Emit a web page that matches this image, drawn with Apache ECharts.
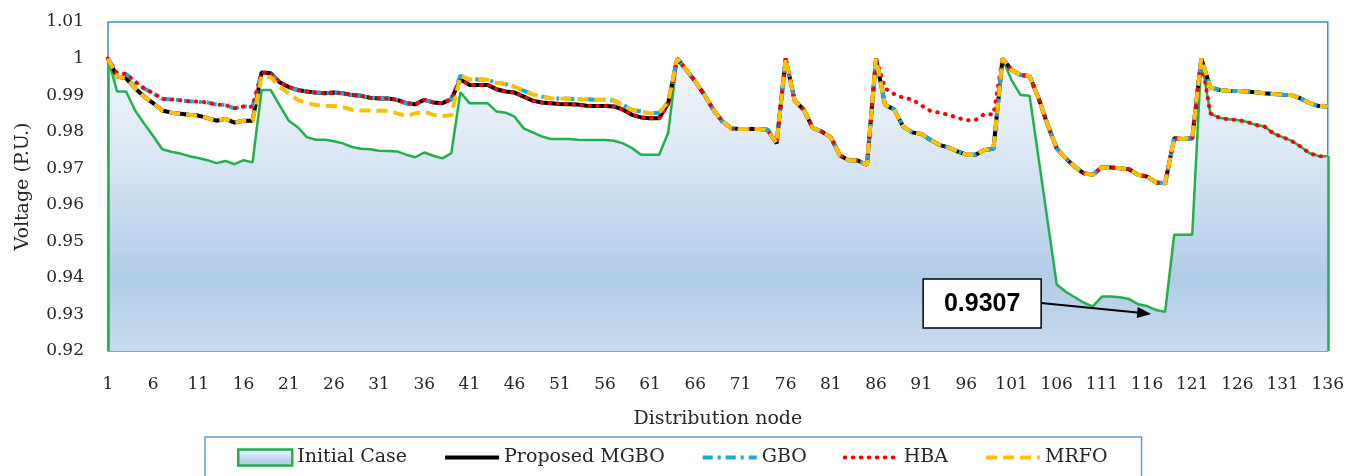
<!DOCTYPE html>
<html>
<head>
<meta charset="utf-8">
<title>Voltage profile</title>
<script src="https://cdn.jsdelivr.net/npm/echarts@6/dist/echarts.min.js"></script>
<style>
  html, body { margin: 0; padding: 0; background: #ffffff; }
  #chart { width: 1347px; height: 476px; }
</style>
</head>
<body>
<div id="chart"></div>
<script>
// Distribution nodes 1..136
const nodes = Array.from({ length: 136 }, (_, i) => String(i + 1));

// Node voltages (p.u.) per case
const initialCase = [
  1.0000, 0.9910, 0.9910, 0.9858, 0.9822, 0.9788, 0.9752, 0.9745, 0.9740, 0.9733,
  0.9728, 0.9722, 0.9714, 0.9720, 0.9711, 0.9722, 0.9716, 0.9914, 0.9914, 0.9872,
  0.9830, 0.9812, 0.9785, 0.9778, 0.9778, 0.9774, 0.9768, 0.9758, 0.9753, 0.9752,
  0.9748, 0.9747, 0.9746, 0.9737, 0.9730, 0.9743, 0.9734, 0.9727, 0.9741, 0.9908,
  0.9878, 0.9878, 0.9878, 0.9855, 0.9852, 0.9841, 0.9809, 0.9798, 0.9787, 0.9780,
  0.9780, 0.9780, 0.9778, 0.9777, 0.9777, 0.9777, 0.9775, 0.9768, 0.9755, 0.9737,
  0.9737, 0.9737, 0.9797, 1.0000, 0.9969, 0.9937, 0.9901, 0.9860, 0.9828, 0.9809,
  0.9807, 0.9807, 0.9807, 0.9805, 0.9768, 1.0000, 0.9885, 0.9860, 0.9810, 0.9800,
  0.9785, 0.9735, 0.9722, 0.9721, 0.9709, 1.0000, 0.9873, 0.9861, 0.9814, 0.9798,
  0.9794, 0.9778, 0.9764, 0.9757, 0.9746, 0.9737, 0.9737, 0.9750, 0.9753, 1.0000,
  0.9941, 0.9900, 0.9898, 0.9726, 0.9554, 0.9382, 0.9362, 0.9347, 0.9332, 0.9322,
  0.9349, 0.9349, 0.9347, 0.9342, 0.9328, 0.9323, 0.9312, 0.9307, 0.9518, 0.9518,
  0.9518, 1.0000, 0.9850, 0.9838, 0.9834, 0.9832, 0.9827, 0.9819, 0.9814, 0.9795,
  0.9785, 0.9775, 0.9759, 0.9741, 0.9733, 0.9733
];

const proposedMGBO = [
  1.0000, 0.9951, 0.9946, 0.9919, 0.9896, 0.9878, 0.9858, 0.9852, 0.9849, 0.9846,
  0.9844, 0.9837, 0.9830, 0.9835, 0.9825, 0.9830, 0.9830, 0.9962, 0.9960, 0.9935,
  0.9922, 0.9914, 0.9910, 0.9907, 0.9905, 0.9907, 0.9905, 0.9900, 0.9898, 0.9893,
  0.9891, 0.9891, 0.9887, 0.9878, 0.9875, 0.9887, 0.9880, 0.9878, 0.9889, 0.9943,
  0.9928, 0.9928, 0.9928, 0.9916, 0.9910, 0.9907, 0.9896, 0.9885, 0.9880, 0.9878,
  0.9876, 0.9875, 0.9874, 0.9871, 0.9870, 0.9870, 0.9869, 0.9860, 0.9846, 0.9839,
  0.9837, 0.9837, 0.9878, 1.0000, 0.9969, 0.9937, 0.9901, 0.9860, 0.9828, 0.9809,
  0.9807, 0.9807, 0.9807, 0.9805, 0.9768, 1.0000, 0.9885, 0.9860, 0.9810, 0.9800,
  0.9785, 0.9735, 0.9722, 0.9721, 0.9709, 1.0000, 0.9873, 0.9861, 0.9814, 0.9798,
  0.9794, 0.9778, 0.9764, 0.9757, 0.9746, 0.9737, 0.9737, 0.9750, 0.9753, 1.0000,
  0.9969, 0.9955, 0.9952, 0.9891, 0.9818, 0.9754, 0.9727, 0.9704, 0.9686, 0.9682,
  0.9703, 0.9702, 0.9700, 0.9697, 0.9682, 0.9677, 0.9661, 0.9659, 0.9782, 0.9780,
  0.9782, 1.0000, 0.9921, 0.9914, 0.9912, 0.9911, 0.9910, 0.9908, 0.9905, 0.9903,
  0.9901, 0.9900, 0.9891, 0.9878, 0.9870, 0.9869
];

const gbo = [
  1.0000, 0.9960, 0.9958, 0.9937, 0.9918, 0.9905, 0.9890, 0.9888, 0.9886, 0.9883,
  0.9882, 0.9880, 0.9874, 0.9873, 0.9864, 0.9869, 0.9868, 0.9962, 0.9960, 0.9935,
  0.9922, 0.9914, 0.9910, 0.9907, 0.9905, 0.9907, 0.9905, 0.9900, 0.9898, 0.9893,
  0.9891, 0.9891, 0.9887, 0.9878, 0.9875, 0.9887, 0.9880, 0.9878, 0.9889, 0.9953,
  0.9943, 0.9943, 0.9942, 0.9934, 0.9930, 0.9923, 0.9912, 0.9902, 0.9896, 0.9891,
  0.9891, 0.9890, 0.9889, 0.9889, 0.9887, 0.9887, 0.9885, 0.9873, 0.9860, 0.9855,
  0.9850, 0.9852, 0.9882, 1.0000, 0.9969, 0.9937, 0.9901, 0.9860, 0.9828, 0.9809,
  0.9807, 0.9807, 0.9807, 0.9805, 0.9768, 1.0000, 0.9885, 0.9860, 0.9810, 0.9800,
  0.9785, 0.9735, 0.9722, 0.9721, 0.9709, 1.0000, 0.9873, 0.9861, 0.9814, 0.9798,
  0.9794, 0.9778, 0.9764, 0.9757, 0.9746, 0.9737, 0.9737, 0.9750, 0.9753, 1.0000,
  0.9969, 0.9955, 0.9952, 0.9891, 0.9818, 0.9754, 0.9727, 0.9704, 0.9686, 0.9682,
  0.9703, 0.9702, 0.9700, 0.9697, 0.9682, 0.9677, 0.9661, 0.9659, 0.9782, 0.9780,
  0.9782, 1.0000, 0.9921, 0.9914, 0.9912, 0.9911, 0.9910, 0.9908, 0.9905, 0.9903,
  0.9901, 0.9900, 0.9891, 0.9878, 0.9870, 0.9869
];

const hba = [
  1.0000, 0.9960, 0.9958, 0.9937, 0.9918, 0.9905, 0.9890, 0.9888, 0.9886, 0.9883,
  0.9882, 0.9880, 0.9874, 0.9873, 0.9864, 0.9869, 0.9868, 0.9962, 0.9960, 0.9935,
  0.9922, 0.9914, 0.9910, 0.9907, 0.9905, 0.9907, 0.9905, 0.9900, 0.9898, 0.9893,
  0.9891, 0.9891, 0.9887, 0.9878, 0.9875, 0.9887, 0.9880, 0.9878, 0.9889, 0.9943,
  0.9928, 0.9928, 0.9928, 0.9916, 0.9910, 0.9907, 0.9896, 0.9885, 0.9880, 0.9878,
  0.9876, 0.9875, 0.9874, 0.9871, 0.9870, 0.9870, 0.9869, 0.9860, 0.9846, 0.9839,
  0.9837, 0.9837, 0.9878, 1.0000, 0.9969, 0.9937, 0.9901, 0.9860, 0.9828, 0.9809,
  0.9807, 0.9807, 0.9807, 0.9805, 0.9768, 1.0000, 0.9885, 0.9860, 0.9810, 0.9800,
  0.9785, 0.9735, 0.9722, 0.9721, 0.9709, 1.0000, 0.9918, 0.9903, 0.9893, 0.9888,
  0.9872, 0.9857, 0.9852, 0.9846, 0.9838, 0.9831, 0.9832, 0.9848, 0.9847, 1.0000,
  0.9969, 0.9955, 0.9952, 0.9891, 0.9818, 0.9754, 0.9727, 0.9704, 0.9686, 0.9682,
  0.9703, 0.9702, 0.9700, 0.9697, 0.9682, 0.9677, 0.9661, 0.9659, 0.9782, 0.9780,
  0.9782, 1.0000, 0.9850, 0.9838, 0.9834, 0.9832, 0.9827, 0.9819, 0.9814, 0.9795,
  0.9785, 0.9775, 0.9759, 0.9741, 0.9733, 0.9733
];

const mrfo = [
  1.0000, 0.9951, 0.9946, 0.9919, 0.9896, 0.9878, 0.9858, 0.9852, 0.9849, 0.9846,
  0.9844, 0.9837, 0.9830, 0.9835, 0.9825, 0.9830, 0.9830, 0.9951, 0.9949, 0.9923,
  0.9905, 0.9887, 0.9878, 0.9873, 0.9870, 0.9870, 0.9867, 0.9860, 0.9858, 0.9858,
  0.9857, 0.9857, 0.9850, 0.9843, 0.9850, 0.9855, 0.9846, 0.9843, 0.9845, 0.9953,
  0.9943, 0.9943, 0.9942, 0.9934, 0.9930, 0.9923, 0.9912, 0.9902, 0.9896, 0.9891,
  0.9891, 0.9890, 0.9889, 0.9889, 0.9887, 0.9887, 0.9885, 0.9873, 0.9860, 0.9855,
  0.9850, 0.9852, 0.9882, 1.0000, 0.9969, 0.9937, 0.9901, 0.9860, 0.9828, 0.9809,
  0.9807, 0.9807, 0.9807, 0.9805, 0.9768, 1.0000, 0.9885, 0.9860, 0.9810, 0.9800,
  0.9785, 0.9735, 0.9722, 0.9721, 0.9709, 1.0000, 0.9873, 0.9861, 0.9814, 0.9798,
  0.9794, 0.9778, 0.9764, 0.9757, 0.9746, 0.9737, 0.9737, 0.9750, 0.9753, 1.0000,
  0.9969, 0.9955, 0.9952, 0.9891, 0.9818, 0.9754, 0.9727, 0.9704, 0.9686, 0.9682,
  0.9703, 0.9702, 0.9700, 0.9697, 0.9682, 0.9677, 0.9661, 0.9659, 0.9782, 0.9780,
  0.9782, 1.0000, 0.9921, 0.9914, 0.9912, 0.9911, 0.9910, 0.9908, 0.9905, 0.9903,
  0.9901, 0.9900, 0.9891, 0.9878, 0.9870, 0.9869
];

// Axis range
const yMin = 0.92;
const yMax = 1.01;
const yStep = 0.01;

const SERIF = 'DejaVu Serif';
const TEXT = '#262626';
const GREEN = '#21b04b';

function areaFill() {
  return new echarts.graphic.LinearGradient(0, 0, 0, 1, [
    { offset: 0, color: '#f3f7fc' },
    { offset: 0.3, color: '#dde8f5' },
    { offset: 0.5, color: '#c9dcf0' },
    { offset: 0.75, color: '#b1cce8' },
    { offset: 1, color: '#c8dbef' }
  ]);
}

function lineSeries(name, data, z, lineStyle) {
  return {
    name, type: 'line', data, z,
    symbol: 'none',
    lineStyle, itemStyle: { color: lineStyle.color }
  };
}

// Legend entry that shows only the line stroke (marker hidden)
function lineLegend(name) {
  return { name, itemStyle: { opacity: 0 }, lineStyle: { width: 4 } };
}

const chart = echarts.init(document.getElementById('chart'), null, { renderer: 'canvas' });

const option = {
  animation: false,
  backgroundColor: '#ffffff',
  grid: {
    left: 108, right: 16, top: 22, bottom: 125,
    show: true, borderColor: '#3d8ed6', borderWidth: 1.5, backgroundColor: '#ffffff'
  },
  legend: {
    left: 205, top: 437,
    padding: [11, 34, 12, 32],
    itemGap: 36, itemWidth: 54, itemHeight: 16,
    borderColor: '#5b9bd5', borderWidth: 1.5,
    textStyle: { fontFamily: SERIF, fontSize: 19, color: TEXT },
    data: [
      { name: 'Initial Case', icon: 'rect',
        itemStyle: { color: areaFill(), borderColor: GREEN, borderWidth: 2.5 } },
      lineLegend('Proposed MGBO'), lineLegend('GBO'), lineLegend('HBA'), lineLegend('MRFO')
    ]
  },
  xAxis: {
    type: 'category', data: nodes, boundaryGap: false,
    axisLine: { show: false }, axisTick: { show: false }, splitLine: { show: false },
    axisLabel: { interval: 4, margin: 25, fontFamily: SERIF, fontSize: 17, color: TEXT },
    name: 'Distribution node', nameLocation: 'middle', nameGap: 59,
    nameTextStyle: { fontFamily: SERIF, fontSize: 19, color: TEXT }
  },
  yAxis: {
    type: 'value', min: yMin, max: yMax, interval: yStep,
    axisLine: { show: false }, axisTick: { show: false }, splitLine: { show: false },
    axisLabel: {
      margin: 24, fontFamily: SERIF, fontSize: 17, color: TEXT,
      formatter: v => String(parseFloat(v.toFixed(2)))
    },
    name: 'Voltage (P.U.)', nameLocation: 'middle', nameGap: 75, nameRotate: 90,
    nameTextStyle: { fontFamily: SERIF, fontSize: 19, color: TEXT }
  },
  series: [
    {
      name: 'Initial Case', type: 'line', data: initialCase,
      symbol: 'none', z: 1,
      lineStyle: { color: GREEN, width: 2.5 },
      itemStyle: { color: GREEN },
      areaStyle: { origin: 'start', color: areaFill(), opacity: 1 },
      markLine: {
        silent: true, symbol: ['none', 'none'], label: { show: false },
        lineStyle: { color: GREEN, width: 2.5, type: 'solid' },
        data: [
          [{ coord: [nodes[0], yMin] }, { coord: [nodes[0], initialCase[0]] }],
          [{ coord: [nodes[nodes.length - 1], yMin] },
           { coord: [nodes[nodes.length - 1], initialCase[initialCase.length - 1]] }]
        ]
      }
    },
    lineSeries('Proposed MGBO', proposedMGBO, 2, { color: '#000000', width: 4 }),
    lineSeries('GBO', gbo, 3, { color: '#1aa7e6', width: 4, type: [10, 5, 3, 5] }),
    lineSeries('HBA', hba, 4, { color: '#ff0000', width: 4, type: [0.5, 7.5], cap: 'round' }),
    lineSeries('MRFO', mrfo, 5, { color: '#ffc000', width: 4, type: [11, 6] })
  ]
};

chart.setOption(option);

// Callout pointing at the lowest voltage of the initial case
const iMin = initialCase.indexOf(Math.min(...initialCase));
const p = chart.convertToPixel({ gridIndex: 0 }, [nodes[iMin], initialCase[iMin]]);
const boxW = 118, boxH = 49;
const boxX = p[0] - 124 - boxW, boxY = p[1] - 33;
const a0 = [p[0] - 124, p[1] - 9];
const a1 = [p[0] - 14, p[1] + 2];
const dx = a1[0] - a0[0], dy = a1[1] - a0[1];
const len = Math.hypot(dx, dy), ux = dx / len, uy = dy / len;
const headL = 14, headW = 5.5;
const base = [a1[0] - ux * headL, a1[1] - uy * headL];

chart.setOption({
  graphic: [
    {
      type: 'rect', z: 100,
      shape: { x: boxX, y: boxY, width: boxW, height: boxH },
      style: { fill: '#ffffff', stroke: '#000000', lineWidth: 1.5 }
    },
    {
      type: 'text', z: 101,
      x: boxX + boxW / 2, y: boxY + boxH / 2 + 1,
      style: {
        text: initialCase[iMin].toFixed(4), fill: '#000000',
        font: 'bold 25px "Liberation Sans", Arial, sans-serif',
        align: 'center', verticalAlign: 'middle'
      }
    },
    {
      type: 'line', z: 100,
      shape: { x1: a0[0], y1: a0[1], x2: base[0], y2: base[1] },
      style: { stroke: '#000000', lineWidth: 2 }
    },
    {
      type: 'polygon', z: 100,
      shape: { points: [
        a1,
        [base[0] - uy * headW, base[1] + ux * headW],
        [base[0] + uy * headW, base[1] - ux * headW]
      ] },
      style: { fill: '#000000' }
    }
  ]
});
</script>
</body>
</html>
